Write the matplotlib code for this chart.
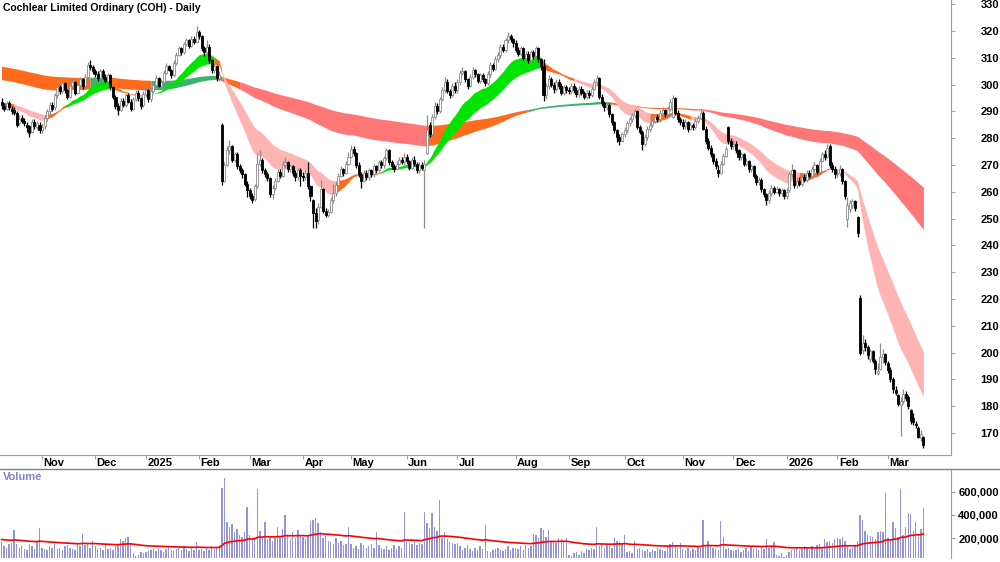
import numpy as np
import pandas as pd
import matplotlib
matplotlib.use("Agg")
import matplotlib.pyplot as plt
from matplotlib.transforms import blended_transform_factory
from matplotlib.lines import Line2D

plt.rcParams['font.family'] = ['Liberation Sans', 'DejaVu Sans']

# ASX trading calendar
holidays = ['2024-12-25', '2024-12-26', '2025-01-01', '2025-01-27', '2025-04-18',
            '2025-04-21', '2025-04-25', '2025-06-09', '2025-12-25', '2025-12-26',
            '2026-01-01', '2026-01-26']
start_date = '2024-10-10'

# daily prices, one row per month
closes = [
    292.5, 291.0, 293.0, 291.5, 290.0, 289.5, 285.0, 287.0, 286.5, 285.5, 284.0, 282.0, 286.0, 284.5, 285.5, 283.0,
    284.0, 287.5, 290.0, 292.5, 291.0, 296.0, 299.0, 297.5, 300.5, 298.0, 295.5, 299.5, 301.0, 297.0, 300.0, 302.0, 299.5, 303.0, 307.5, 306.5, 305.0,
    304.0, 302.5, 305.0, 303.0, 301.5, 303.5, 299.0, 295.5, 292.0, 290.5, 294.0, 292.5, 296.0, 293.5, 291.0, 294.5, 297.0, 295.0, 292.0, 296.5,
    298.0, 294.5, 297.5, 300.0, 302.5, 299.5, 301.0, 304.5, 307.0, 305.5, 303.5, 308.0, 311.0, 313.5, 312.0, 315.0, 316.5, 314.5, 317.0, 316.0, 319.5,
    318.0, 313.5, 312.0, 314.0, 309.0, 305.5, 307.0, 302.5, 303.5, 264.0, 270.0, 275.5, 277.0, 272.0, 274.0, 269.5, 268.0, 266.5, 263.0, 260.5,
    258.5, 257.0, 262.0, 270.5, 272.0, 268.0, 266.5, 265.0, 259.0, 261.5, 264.0, 267.5, 266.0, 270.0, 271.0, 268.5, 269.5, 267.0, 265.5, 268.0, 266.0,
    265.5, 267.0, 262.0, 258.5, 252.0, 249.0, 254.5, 261.0, 253.0, 251.5, 252.5, 257.0, 259.5, 262.5, 266.0, 268.5, 267.0, 270.5, 273.0,
    276.0, 274.5, 270.0, 266.5, 264.0, 267.0, 265.5, 268.0, 266.5, 269.5, 268.0, 271.0, 270.0, 272.5, 275.5, 271.0, 269.5, 268.5, 270.5, 272.0, 271.0, 273.0,
    271.5, 269.0, 272.0, 270.5, 268.0, 270.0, 269.0, 270.5, 283.0, 281.5, 288.0, 292.0, 290.0, 294.5, 298.0, 301.0, 297.5, 296.0, 299.5, 298.0,
    301.0, 304.5, 305.0, 302.0, 299.5, 303.0, 305.5, 304.0, 301.5, 303.5, 302.0, 300.5, 304.0, 307.5, 306.0, 309.5, 311.0, 314.0, 313.0, 316.5, 318.0, 317.0, 315.5,
    313.0, 311.5, 313.5, 310.0, 311.5, 309.0, 312.0, 310.5, 313.5, 309.5, 307.0, 296.0, 299.5, 302.0, 300.0, 298.5, 301.0, 299.5, 297.0, 299.0, 298.0,
    297.5, 299.5, 298.0, 296.5, 298.5, 297.0, 295.5, 297.0, 296.0, 298.5, 301.0, 302.5, 295.5, 293.0, 291.5, 292.5, 289.0, 286.0, 283.0, 280.5, 279.0, 281.5,
    283.0, 285.5, 287.0, 288.5, 290.0, 284.0, 282.5, 278.0, 280.5, 283.5, 285.0, 286.5, 288.0, 287.0, 289.5, 290.5, 289.0, 291.0, 293.5, 295.0, 289.5, 287.0, 286.0,
    284.5, 286.0, 283.5, 285.0, 284.0, 286.5, 287.5, 289.5, 283.5, 279.0, 276.5, 274.0, 271.5, 269.5, 267.0, 270.5, 273.5, 276.0, 279.0, 277.0,
    278.0, 275.5, 273.0, 274.0, 270.5, 271.5, 268.5, 269.5, 266.0, 263.5, 264.5, 261.0, 259.0, 257.0, 259.5, 261.5, 260.0, 261.0, 259.5, 260.5, 258.5,
    260.0, 266.5, 268.0, 262.5, 264.0, 263.0, 265.5, 264.5, 267.0, 266.0, 268.5, 270.0, 267.5, 271.5, 274.0, 273.0, 276.5, 270.0, 268.5, 266.5,
    267.0, 268.5, 264.0, 258.5, 255.0, 256.0, 256.5, 254.0, 244.5, 200.0, 203.5, 202.0, 199.0, 200.5, 197.0, 194.0, 193.0, 198.5, 199.5, 196.5,
    193.5, 190.0, 186.5, 185.0, 181.0, 182.0, 184.5, 183.0, 180.0, 174.5, 174.0, 173.0, 168.5, 169.5, 165.5,
]
opens = [
    293.5, 292.0, 291.0, 293.0, 291.0, 290.5, 289.5, 285.5, 287.5, 286.5, 285.0, 284.5, 282.5, 286.0, 284.0, 285.0,
    283.0, 284.5, 287.5, 290.0, 292.5, 291.5, 296.0, 299.0, 297.5, 300.5, 298.0, 295.5, 299.5, 301.0, 297.0, 300.0, 302.0, 299.5, 303.0, 307.5, 306.5,
    305.0, 304.0, 302.5, 305.0, 303.0, 301.5, 303.5, 299.0, 295.5, 292.0, 290.5, 294.0, 292.5, 296.0, 293.5, 291.0, 294.5, 297.0, 295.0, 292.5,
    296.5, 298.0, 294.5, 297.5, 300.0, 302.5, 299.5, 301.0, 304.5, 307.0, 305.5, 303.5, 308.0, 311.0, 313.5, 312.0, 315.0, 316.5, 314.5, 317.0, 316.0,
    319.5, 318.0, 313.5, 312.0, 314.0, 309.0, 305.5, 307.0, 302.5, 285.0, 264.0, 270.0, 275.5, 277.0, 272.0, 274.0, 269.5, 268.0, 266.5, 263.0,
    260.5, 258.5, 257.5, 262.0, 270.5, 272.0, 268.0, 266.5, 265.0, 259.0, 261.5, 264.0, 267.5, 266.0, 270.0, 271.0, 268.5, 269.5, 267.0, 265.5, 268.0,
    266.0, 265.5, 267.0, 262.0, 257.0, 252.0, 249.5, 254.5, 261.0, 253.0, 251.5, 252.5, 257.0, 259.5, 262.5, 266.0, 268.5, 267.0, 270.5,
    273.0, 276.0, 274.5, 270.0, 266.5, 264.0, 267.0, 265.5, 268.0, 266.5, 269.5, 268.0, 271.0, 270.0, 272.5, 275.5, 271.0, 269.5, 268.5, 270.5, 272.0, 271.0,
    273.0, 271.5, 269.0, 272.0, 270.5, 268.0, 270.0, 268.0, 274.5, 285.0, 281.5, 288.0, 292.0, 290.0, 294.5, 298.0, 301.0, 297.5, 296.0, 299.5,
    298.0, 301.0, 304.5, 305.0, 302.0, 299.5, 303.0, 305.5, 304.0, 301.5, 303.5, 302.0, 300.5, 304.0, 307.5, 306.0, 309.5, 311.0, 314.0, 313.0, 316.5, 318.0, 317.0,
    315.5, 313.0, 311.5, 313.5, 310.0, 311.5, 309.0, 312.0, 310.5, 313.5, 309.5, 307.0, 296.0, 299.5, 302.0, 300.0, 298.5, 301.0, 299.5, 297.0, 299.0,
    298.0, 297.5, 299.5, 298.0, 296.5, 298.5, 297.0, 295.5, 297.0, 296.0, 298.5, 301.0, 302.5, 295.5, 293.0, 291.5, 292.5, 289.0, 286.0, 283.0, 280.5, 279.0,
    281.5, 283.0, 285.5, 287.0, 288.5, 290.0, 284.0, 282.5, 278.0, 280.5, 283.5, 285.0, 286.5, 288.0, 287.0, 289.5, 290.5, 289.0, 291.0, 288.0, 295.0, 289.5, 287.0,
    286.0, 284.5, 286.0, 283.5, 285.0, 284.0, 286.5, 287.5, 289.5, 283.5, 279.0, 276.5, 274.0, 271.5, 268.0, 267.0, 270.5, 273.5, 284.0, 279.0,
    277.0, 278.0, 275.5, 273.0, 274.0, 270.5, 271.5, 268.5, 269.5, 266.0, 263.5, 264.5, 261.0, 259.0, 257.0, 259.5, 261.5, 260.0, 261.0, 259.5, 260.5,
    258.5, 260.5, 266.5, 268.0, 262.5, 264.0, 263.0, 265.5, 264.5, 267.0, 266.0, 268.5, 270.0, 267.5, 271.5, 274.0, 273.0, 277.0, 270.0, 268.5,
    266.5, 267.0, 268.5, 264.0, 250.0, 253.5, 255.0, 256.5, 250.5, 220.5, 201.0, 203.5, 202.0, 197.5, 200.5, 197.0, 192.5, 194.0, 198.5, 199.5,
    196.0, 193.5, 190.0, 186.0, 184.0, 180.5, 182.0, 184.5, 183.5, 178.5, 175.5, 173.5, 172.0, 168.0, 168.5,
]
highs = [
    295.0, 293.0, 294.0, 294.0, 292.0, 291.5, 290.0, 288.5, 288.5, 287.5, 286.0, 285.0, 287.0, 287.0, 286.5, 286.0,
    285.5, 288.5, 291.0, 293.5, 293.5, 297.0, 300.0, 300.0, 301.5, 301.0, 298.5, 300.5, 302.5, 301.5, 301.0, 303.0, 302.5, 304.0, 308.5, 309.0, 307.5,
    306.0, 305.0, 306.0, 306.0, 304.0, 304.5, 304.0, 299.5, 296.0, 293.0, 295.0, 295.0, 297.0, 297.0, 294.5, 295.5, 298.0, 298.0, 295.5, 297.5,
    299.5, 298.5, 298.5, 301.0, 303.5, 303.0, 302.0, 305.5, 308.0, 307.5, 306.0, 309.0, 312.0, 314.5, 314.0, 316.0, 317.5, 317.0, 318.0, 318.0, 322.0,
    320.5, 318.5, 314.5, 316.5, 315.0, 309.5, 308.0, 307.5, 305.0, 285.5, 271.0, 277.0, 279.5, 277.5, 275.0, 275.0, 270.5, 269.0, 267.0, 264.0,
    261.5, 259.5, 263.0, 274.5, 275.5, 272.5, 269.0, 267.5, 265.5, 262.5, 265.0, 268.5, 268.5, 271.5, 273.0, 271.5, 270.5, 270.0, 268.0, 269.0, 269.0,
    267.5, 268.0, 271.0, 262.5, 257.5, 254.0, 256.0, 264.5, 261.5, 254.0, 253.5, 258.0, 263.0, 263.5, 267.0, 269.5, 269.0, 271.5, 275.0,
    277.5, 277.0, 275.0, 271.0, 267.5, 268.0, 268.0, 269.0, 268.5, 270.5, 270.0, 272.0, 272.0, 273.5, 276.5, 276.0, 272.0, 270.5, 271.5, 273.0, 273.0, 274.5,
    274.0, 272.0, 273.0, 273.5, 271.0, 271.0, 271.0, 272.0, 288.5, 286.0, 289.0, 293.5, 293.0, 295.5, 299.0, 303.0, 302.0, 298.5, 300.5, 301.0,
    302.0, 305.5, 306.5, 305.5, 302.5, 304.0, 306.5, 306.0, 304.5, 304.5, 304.5, 302.5, 305.0, 308.5, 308.0, 310.5, 312.0, 315.0, 315.0, 317.5, 319.5, 319.0, 317.5,
    316.5, 314.0, 314.5, 314.0, 312.5, 312.5, 313.0, 313.0, 314.5, 314.0, 310.0, 309.5, 300.5, 303.5, 303.0, 301.0, 302.0, 302.0, 300.5, 300.0, 300.0,
    299.0, 300.5, 300.5, 299.0, 299.5, 299.5, 297.5, 298.0, 298.0, 299.5, 302.0, 303.5, 303.0, 296.5, 294.0, 293.5, 293.0, 289.5, 286.5, 283.5, 281.5, 282.5,
    284.0, 286.5, 288.0, 289.5, 291.0, 290.5, 285.0, 283.0, 281.5, 284.5, 286.0, 287.5, 289.0, 289.0, 290.5, 291.5, 291.0, 292.0, 294.5, 296.0, 295.5, 290.5, 288.0,
    287.0, 287.0, 286.5, 286.0, 285.5, 287.5, 288.5, 291.0, 290.0, 284.5, 280.0, 277.5, 274.5, 272.5, 270.0, 271.5, 274.5, 277.0, 284.5, 280.0,
    279.5, 279.0, 276.0, 275.0, 274.5, 272.5, 272.0, 270.5, 270.0, 266.5, 265.5, 265.0, 261.5, 259.5, 260.5, 262.5, 262.0, 262.0, 261.5, 261.5, 261.0,
    261.5, 267.5, 270.5, 268.5, 265.0, 265.5, 266.5, 266.5, 268.0, 268.0, 269.5, 271.0, 270.5, 272.5, 275.0, 275.5, 278.0, 278.0, 271.0, 269.5,
    268.5, 270.0, 269.0, 264.5, 258.0, 257.0, 257.5, 257.0, 251.0, 221.5, 206.5, 205.0, 203.0, 201.5, 201.0, 197.5, 196.0, 203.5, 201.5, 200.0,
    197.0, 194.5, 191.0, 187.5, 184.5, 183.5, 186.5, 185.5, 184.0, 179.0, 177.5, 174.5, 172.5, 171.0, 169.0,
]
lows = [
    291.0, 290.0, 290.5, 290.5, 289.0, 288.5, 284.0, 285.0, 285.5, 284.5, 282.5, 280.5, 282.0, 283.5, 283.5, 282.0,
    282.0, 283.5, 286.5, 289.0, 290.0, 290.5, 295.0, 296.5, 297.0, 297.0, 294.5, 295.0, 298.5, 296.0, 296.5, 299.0, 298.5, 299.0, 302.5, 305.5, 304.0,
    303.0, 301.5, 302.0, 302.0, 300.5, 300.5, 298.0, 294.5, 291.0, 288.5, 290.0, 291.5, 291.5, 293.0, 290.0, 290.5, 294.0, 294.0, 291.0, 291.5,
    295.5, 293.5, 293.5, 297.0, 299.5, 299.0, 298.5, 300.5, 304.0, 305.0, 302.5, 303.0, 307.5, 310.5, 311.0, 311.5, 314.5, 313.5, 314.0, 315.0, 315.5,
    317.0, 312.5, 310.5, 311.5, 308.0, 304.5, 304.5, 301.5, 301.5, 262.5, 263.5, 269.5, 274.0, 271.0, 271.0, 268.5, 267.0, 265.0, 262.0, 258.0,
    257.5, 256.0, 256.5, 261.5, 269.5, 267.0, 265.5, 264.0, 258.0, 257.5, 260.5, 263.5, 265.0, 265.5, 269.0, 267.5, 267.5, 266.0, 264.0, 264.5, 262.0,
    264.0, 264.5, 261.0, 256.5, 246.5, 246.5, 248.0, 254.0, 252.0, 250.5, 250.5, 252.0, 256.0, 258.5, 262.0, 265.5, 266.0, 266.5, 270.0,
    272.5, 273.5, 269.0, 265.5, 261.5, 263.5, 264.5, 264.5, 265.5, 265.5, 267.0, 267.5, 269.0, 269.0, 272.0, 270.0, 268.5, 267.5, 268.0, 270.0, 270.5, 270.0,
    270.5, 268.0, 268.5, 269.5, 267.0, 267.0, 268.0, 246.5, 274.0, 280.5, 281.0, 287.0, 289.0, 289.5, 294.0, 297.0, 297.0, 295.0, 295.5, 297.0,
    297.0, 300.0, 303.5, 301.0, 298.5, 299.0, 302.0, 303.0, 300.5, 300.5, 301.0, 299.5, 300.0, 303.0, 305.0, 305.5, 308.5, 310.0, 312.0, 312.0, 315.5, 316.0, 314.0,
    312.0, 310.5, 310.5, 309.0, 309.0, 308.0, 308.5, 309.5, 310.0, 308.5, 305.5, 294.0, 294.5, 298.5, 299.0, 297.0, 297.5, 298.5, 296.0, 296.0, 297.0,
    296.5, 296.5, 297.0, 295.5, 295.5, 296.0, 294.5, 294.5, 295.0, 295.5, 298.0, 300.0, 294.5, 292.0, 290.0, 290.5, 288.0, 285.0, 282.0, 278.5, 277.5, 278.5,
    280.5, 282.0, 284.5, 286.0, 287.5, 283.5, 281.5, 275.5, 277.0, 279.5, 282.5, 284.0, 285.5, 286.0, 286.0, 288.5, 288.0, 288.0, 290.0, 287.5, 288.5, 286.0, 285.0,
    283.5, 283.5, 282.5, 283.0, 283.0, 283.5, 285.5, 287.0, 283.0, 278.0, 275.5, 273.0, 270.5, 268.5, 265.5, 266.5, 270.0, 273.0, 278.0, 276.0,
    276.0, 274.5, 272.0, 272.0, 269.5, 269.5, 267.5, 267.5, 265.0, 262.5, 262.5, 260.0, 258.0, 255.0, 256.0, 258.5, 259.0, 259.5, 258.5, 258.5, 257.5,
    257.5, 260.0, 265.5, 261.5, 261.5, 262.0, 262.0, 263.5, 263.5, 265.0, 265.0, 267.5, 266.5, 266.5, 271.0, 272.0, 272.5, 269.0, 267.5, 265.0,
    265.5, 266.0, 263.0, 257.5, 247.0, 252.5, 254.0, 253.0, 243.0, 199.0, 199.5, 200.5, 197.5, 196.5, 196.0, 192.0, 191.5, 193.5, 196.0, 195.5,
    192.5, 189.0, 185.0, 184.0, 180.0, 169.0, 181.0, 182.0, 179.0, 173.5, 173.0, 172.0, 168.0, 167.0, 164.5,
]
# daily volume, thousands of shares
volume_k = [
    170, 130, 120, 150, 160, 270, 150, 120, 130, 110, 100, 150, 130, 110, 180, 290,
    120, 110, 100, 130, 120, 150, 110, 120, 100, 130, 140, 120, 110, 100, 150, 130, 240, 140, 160, 120, 180,
    130, 110, 120, 100, 140, 110, 120, 100, 130, 150, 190, 180, 200, 210, 150, 70, 50, 60, 80, 70,
    80, 90, 100, 110, 90, 120, 100, 80, 110, 130, 100, 90, 110, 120, 100, 130, 110, 90, 120, 100, 170,
    100, 110, 90, 120, 100, 130, 110, 120, 140, 630, 720, 340, 300, 320, 250, 280, 230, 210, 250, 470,
    230, 190, 210, 620, 260, 200, 340, 190, 220, 180, 200, 300, 210, 280, 400, 220, 190, 250, 200, 270, 230,
    210, 190, 230, 350, 360, 370, 330, 250, 200, 220, 180, 170, 150, 200, 160, 180, 140, 150, 300,
    150, 120, 130, 110, 160, 140, 120, 130, 150, 120, 255, 140, 120, 110, 130, 100, 120, 140, 110, 130, 120, 430,
    170, 160, 150, 180, 140, 160, 150, 430, 330, 290, 420, 300, 260, 530, 200, 250, 190, 170, 160, 150,
    160, 130, 100, 120, 140, 110, 90, 120, 100, 130, 110, 310, 90, 80, 100, 110, 120, 100, 90, 110, 130, 100, 120,
    120, 110, 130, 100, 140, 120, 130, 240, 230, 200, 290, 270, 210, 270, 180, 170, 160, 200, 190, 180, 200,
    60, 50, 70, 80, 60, 90, 70, 110, 100, 120, 110, 300, 130, 150, 120, 140, 130, 120, 200, 180, 170, 150,
    230, 80, 90, 70, 180, 110, 120, 100, 90, 110, 80, 100, 90, 120, 110, 100, 90, 130, 150, 170, 140, 120, 160,
    110, 100, 120, 90, 110, 100, 130, 120, 360, 140, 180, 130, 120, 110, 100, 350, 210, 110, 120, 100,
    90, 100, 110, 80, 100, 120, 90, 130, 110, 120, 100, 130, 110, 190, 120, 130, 170, 60, 50, 70, 40,
    60, 80, 100, 110, 120, 100, 110, 130, 120, 100, 130, 110, 140, 150, 120, 190, 170, 180, 160, 190,
    200, 190, 210, 180, 130, 110, 120, 140, 180, 400, 360, 260, 230, 220, 210, 190, 250, 260, 250, 590,
    200, 180, 340, 290, 210, 620, 230, 300, 420, 410, 260, 340, 210, 280, 460,
]

# moving-average ribbons: periods and their values on the first day shown
short_periods = [18, 23, 28, 34]
short_seeds = [292.0, 291.0, 292.5, 293.5]
long_periods = [130, 160, 190, 230]
long_seeds = [302.0, 304.5, 307.0, 306.0]
volume_ma_period = 60
volume_ma_seed = 190

# ribbon trend state (run end index, state)
short_state_ends = [5, 17, 25, 43, 59, 84, 87, 132, 150, 213, 226, 256, 272, 315, 327, 365]
short_states = ['mixed', 'down', 'mixed', 'up', 'mixed', 'up', 'mixed', 'down', 'mixed',
                'up', 'mixed', 'down', 'mixed', 'down', 'mixed', 'down']
long_state_ends = [35, 43, 59, 87, 94, 168, 208, 240, 275, 365]
long_states = ['mixed', 'up', 'mixed', 'up', 'mixed', 'down', 'mixed', 'up', 'mixed', 'down']

short_colors = {'up': '#00E400', 'down': '#FFB4B4', 'mixed': '#FF6A1C'}
long_colors = {'up': '#3DB26E', 'down': '#FF7676', 'mixed': '#FF6A1C'}

n = len(closes)
for name, arr in [('opens', opens), ('highs', highs), ('lows', lows), ('volume', volume_k)]:
    if len(arr) != n:
        raise ValueError(f"{name} has {len(arr)} values, expected {n}")

dates = pd.bdate_range(start_date, periods=n, freq='C', holidays=holidays)
x = np.arange(n)
o = np.array(opens)
h = np.array(highs)
l = np.array(lows)
c = np.array(closes)
vol = np.array(volume_k) * 1000.0


def ema(values, period, seed):
    a = 2.0 / (period + 1)
    out = np.empty(len(values))
    prev = seed
    for i, v in enumerate(values):
        prev = prev + a * (v - prev)
        out[i] = prev
    return out


short_emas = np.array([ema(c, p, s) for p, s in zip(short_periods, short_seeds)])
long_emas = np.array([ema(c, p, s) for p, s in zip(long_periods, long_seeds)])
vol_ma = ema(vol, volume_ma_period, volume_ma_seed * 1000.0)

W, H = 1000, 562
fig = plt.figure(figsize=(W / 100, H / 100), dpi=100)
ax = fig.add_axes([0, 1 - 455 / H, 951 / W, 455 / H])
axv = fig.add_axes([0, 1 - 558 / H, 951 / W, (558 - 469) / H])

xlim = (-0.6, 374.9)


def draw_band(emas, ends, states, colors, z):
    lo = emas.min(axis=0)
    hi = emas.max(axis=0)
    start = 0
    for end, st in zip(ends, states):
        stop = min(end + 1, n)
        ax.fill_between(x[start:stop], lo[start:stop], hi[start:stop],
                        color=colors[st], linewidth=0, zorder=z)
        start = end


draw_band(long_emas, long_state_ends, long_states, long_colors, 1)
draw_band(short_emas, short_state_ends, short_states, short_colors, 2)

# candles
up = c >= o
wick_col = np.where(up, '#8C8C8C', '#000000')
ax.vlines(x, l, h, colors=wick_col, linewidth=0.9, zorder=3)
body_lo = np.minimum(o, c)
body_h = np.maximum(np.abs(c - o), 0.4)
ax.bar(x[up], body_h[up], bottom=body_lo[up], width=0.8, color='white',
       edgecolor='#8C8C8C', linewidth=0.6, zorder=4)
ax.bar(x[~up], body_h[~up], bottom=body_lo[~up], width=0.8, color='black',
       edgecolor='black', linewidth=0.6, zorder=4)

ax.set_xlim(*xlim)
ax.set_ylim(161.79, 331.57)
for s in ['top', 'left']:
    ax.spines[s].set_visible(False)
for s in ['bottom', 'right']:
    ax.spines[s].set_color('#A0A0A0')
ax.yaxis.tick_right()
ax.set_yticks(range(170, 331, 10))
ax.tick_params(axis='y', direction='out', length=3, color='#A0A0A0', pad=31.5,
               labelsize=8)
for lab in ax.get_yticklabels():
    lab.set_horizontalalignment('right')
    lab.set_fontweight('bold')

# month ticks
months = pd.Series(dates.to_period('M'))
first_idx = [i for i in range(1, n) if months[i] != months[i - 1]]
ax.set_xticks(first_idx)
ax.tick_params(axis='x', direction='out', length=3, color='#A0A0A0', labelbottom=False)
tr = blended_transform_factory(ax.transData, ax.transAxes)
for i in first_idx:
    d = dates[i]
    lab = str(d.year) if d.month == 1 else d.strftime('%b')
    ax.text(i + 0.6, -3.5 / 455, lab, transform=tr, ha='left', va='top',
            fontsize=8, fontweight='bold')

ax.text(3 / 951, 1 - 3 / 455, 'Cochlear Limited Ordinary (COH) - Daily', transform=ax.transAxes,
        ha='left', va='top', fontsize=7.5, fontweight='bold')

# volume panel
axv.bar(x, vol, width=0.55, color='#9494D6', linewidth=0, zorder=1)
axv.plot(x, vol_ma, color='#FF0000', linewidth=1.2, zorder=2)
axv.set_xlim(*xlim)
axv.set_ylim(30900, 794800)
for s in ['left', 'bottom', 'top']:
    axv.spines[s].set_visible(False)
axv.spines['right'].set_color('#A0A0A0')
axv.set_xticks([])
axv.yaxis.tick_right()
axv.set_yticks([200000, 400000, 600000])
axv.set_yticklabels(['200,000', '400,000', '600,000'])
axv.tick_params(axis='y', direction='out', length=3, color='#A0A0A0', pad=31.5,
                labelsize=8)
for lab in axv.get_yticklabels():
    lab.set_horizontalalignment('right')
    lab.set_fontweight('bold')
axv.text(3 / 951, 1 - 3 / 89, 'Volume', transform=axv.transAxes, ha='left', va='top',
         fontsize=8, fontweight='bold', color='#8484C4')

fig.add_artist(Line2D([0, 1], [1 - 469 / H, 1 - 469 / H], color='#808080', linewidth=1.0))

fig.savefig('out.png', dpi=100)
